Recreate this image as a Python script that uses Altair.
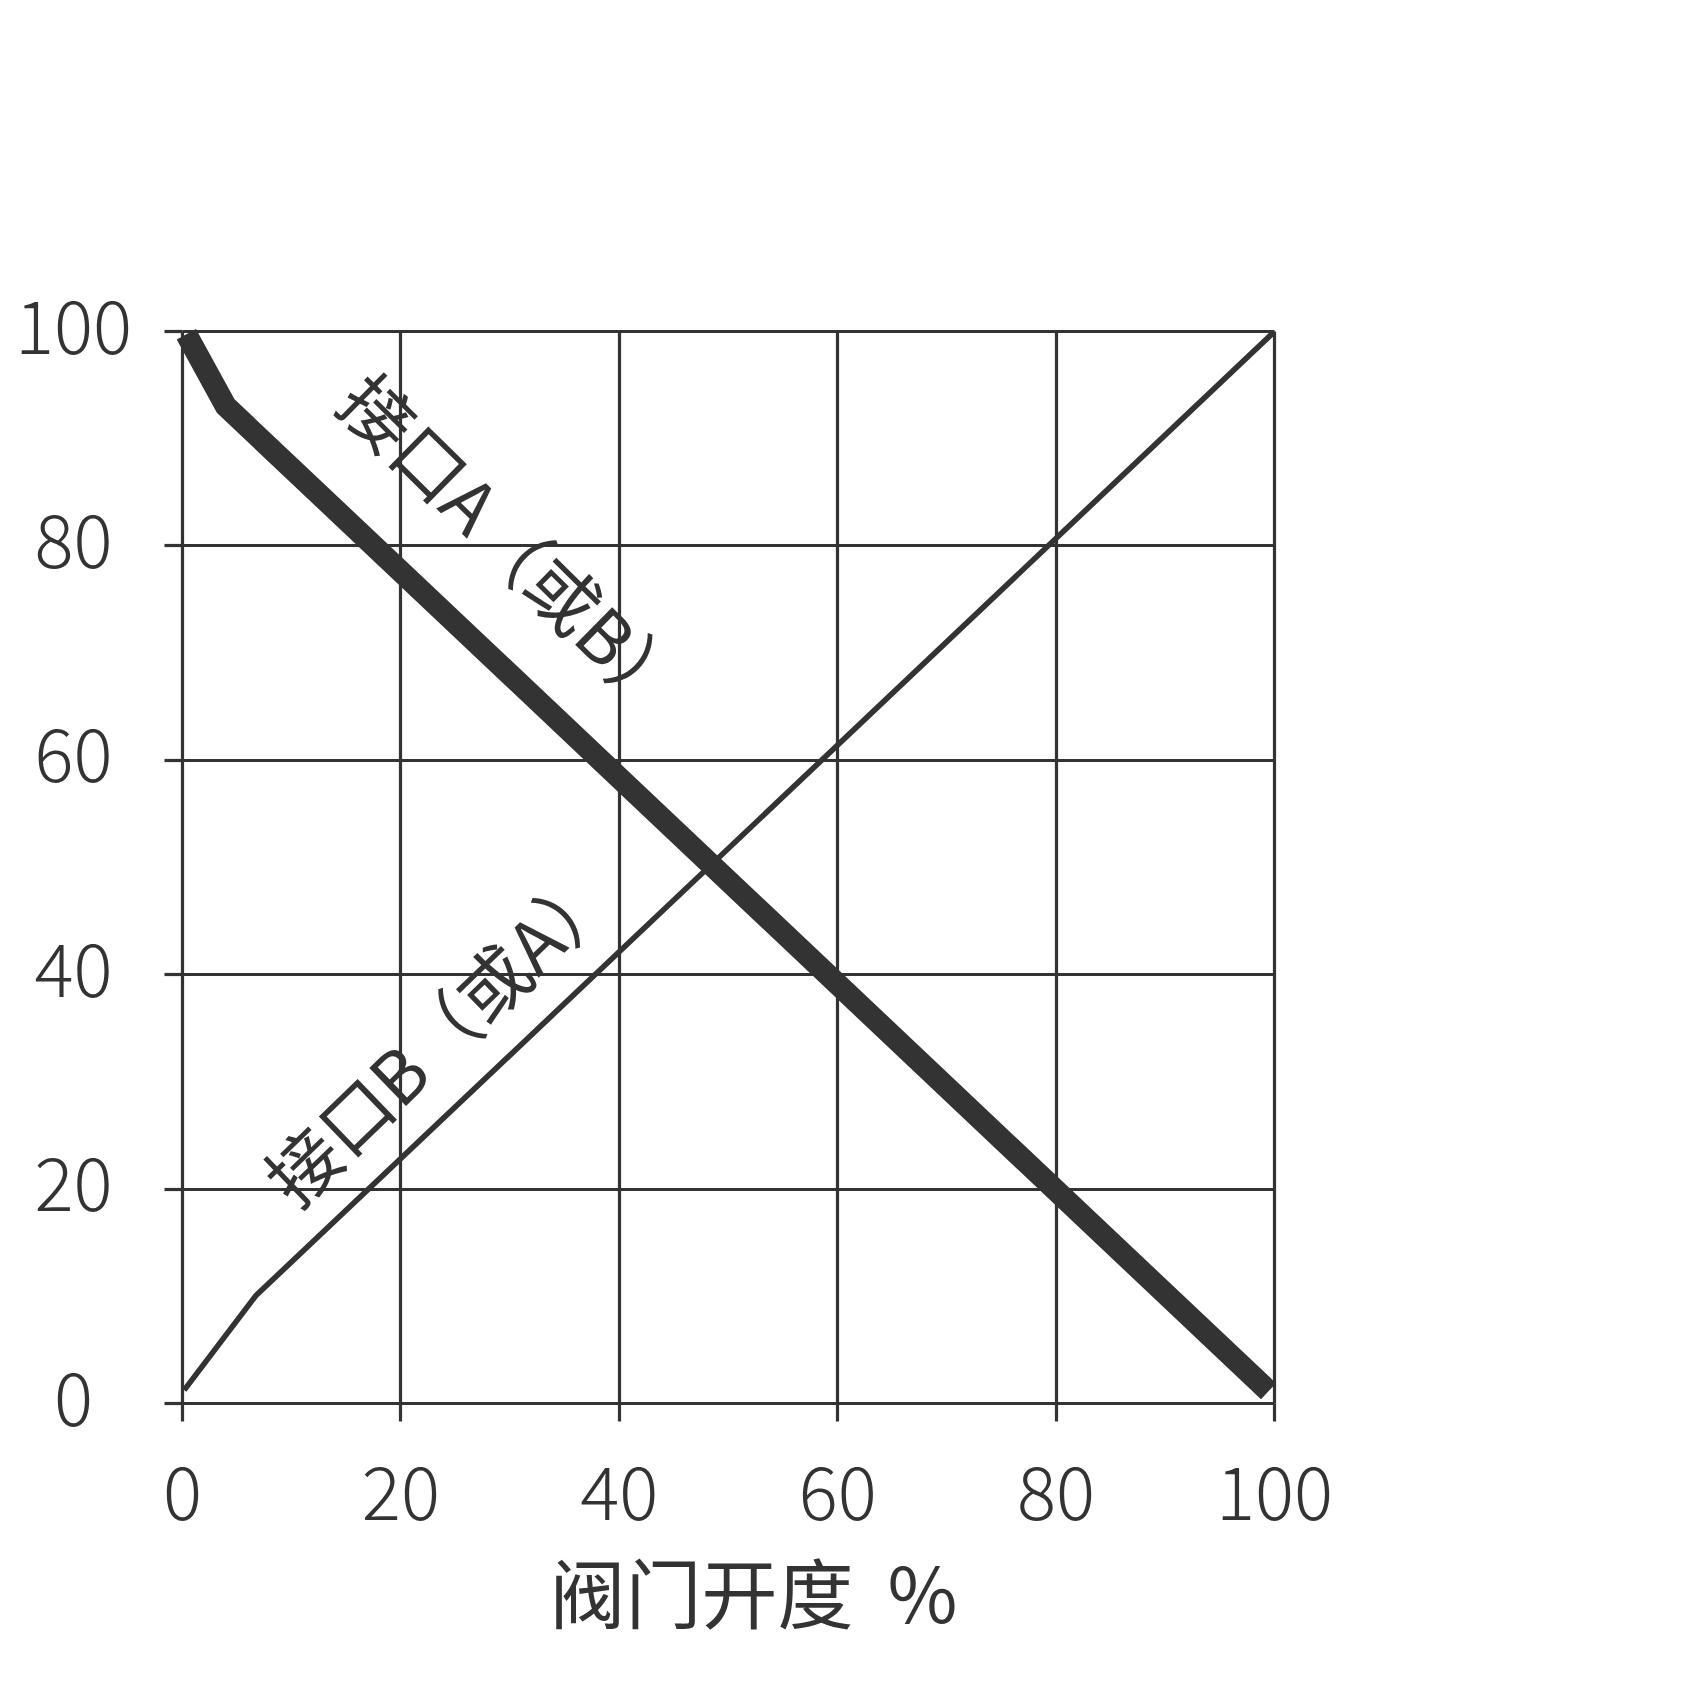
import altair as alt
import pandas as pd

# Data
port_a_x = [0.4, 4.0, 99.5]
port_a_y = [99.7, 93.0, 1.1]
port_b_x = [0.2, 6.75, 100.0]
port_b_y = [1.2, 10.0, 99.9]
ticks = [0, 20, 40, 60, 80, 100]

label_text = ["接口A（或B）", "接口B（或A）"]
label_x = [30.0, 24.0]
label_y = [79.6, 34.0]
label_angle = [44.5, -44.0]

INK = "#333333"
FONT = "Noto Sans CJK SC"

df_a = pd.DataFrame({"x": port_a_x, "y": port_a_y, "o": range(len(port_a_x))})
df_b = pd.DataFrame({"x": port_b_x, "y": port_b_y, "o": range(len(port_b_x))})

xscale = alt.Scale(domain=[0, 100], nice=False, zero=False)
yscale = alt.Scale(domain=[0, 100], nice=False, zero=False)

xaxis = alt.Axis(values=ticks, grid=True, domain=False, ticks=True, tickSize=18,
                 tickWidth=3.2, tickColor=INK, gridColor=INK, gridWidth=3.2, gridOpacity=1,
                 labelFont=FONT, labelFontSize=73, labelFontWeight=300, labelColor=INK,
                 labelPadding=76, labelBaseline="middle", labelAlign="center",
                 title="阀门开度\u00a0\u00a0%", titleFont=FONT, titleFontSize=76, titleFontWeight=400,
                 titleColor=INK, titleX=571, titleY=196, titleAlign="center",
                 titleBaseline="middle", labelFlush=False)
yaxis = alt.Axis(values=ticks, grid=True, domain=False, ticks=True, tickSize=18,
                 tickWidth=3.2, tickColor=INK, gridColor=INK, gridWidth=3.2, gridOpacity=1,
                 labelFont=FONT, labelFontSize=73, labelFontWeight=300, labelColor=INK,
                 labelPadding=91, labelAlign="center", labelBaseline="middle",
                 title=None, labelFlush=False)

line_a = alt.Chart(df_a).mark_line(color=INK, strokeWidth=22, strokeCap="butt").encode(
    x=alt.X("x:Q", scale=xscale, axis=xaxis),
    y=alt.Y("y:Q", scale=yscale, axis=yaxis),
    order="o:Q",
)
line_b = alt.Chart(df_b).mark_line(color=INK, strokeWidth=5.6).encode(
    x=alt.X("x:Q", scale=xscale),
    y=alt.Y("y:Q", scale=yscale),
    order="o:Q",
)

labels = []
for t, lx, ly, ang in zip(label_text, label_x, label_y, label_angle):
    labels.append(
        alt.Chart(pd.DataFrame({"x": [lx], "y": [ly], "t": [t]})).mark_text(
            font=FONT, fontSize=72, fontWeight=400, color=INK, angle=ang % 360,
            align="center", baseline="middle"
        ).encode(x=alt.X("x:Q", scale=xscale), y=alt.Y("y:Q", scale=yscale), text="t:N")
    )

chart = alt.layer(line_b, line_a, *labels).properties(
    width=1092, height=1072,
    autosize=alt.AutoSizeParams(type="none"),
    padding={"left": 174, "top": 323, "right": 200, "bottom": 280},
).configure_view(stroke=None).configure(background="white")

chart.save("out.html", embed_options={"renderer": "svg", "actions": False})
